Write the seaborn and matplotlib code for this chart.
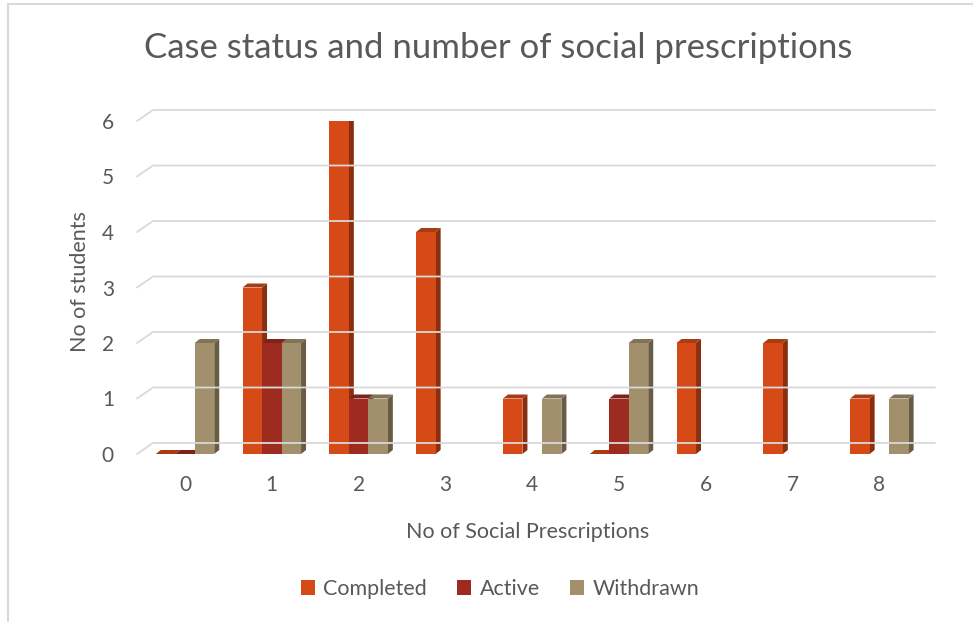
import numpy as np
import pandas as pd
import matplotlib
matplotlib.use("Agg")
import matplotlib.pyplot as plt
import seaborn as sns
from matplotlib.patches import Polygon, Patch
from matplotlib.lines import Line2D
from matplotlib.transforms import IdentityTransform

# ---- data (NaN = empty cell, 0 = explicit zero) ----
categories = ["0", "1", "2", "3", "4", "5", "6", "7", "8"]
completed = [0, 3, 6, 4, 1, 0, 2, 2, 1]
active = [0, 2, 1, np.nan, np.nan, 1, np.nan, np.nan, np.nan]
withdrawn = [2, 2, 1, np.nan, 1, 2, np.nan, np.nan, 1]
series_names = ["Completed", "Active", "Withdrawn"]
yticks = [0, 1, 2, 3, 4, 5, 6]

title = "Case status and number of social prescriptions"
xlabel = "No of Social Prescriptions"
ylabel = "No of students"

colors = {"Completed": "#D64A17", "Active": "#9E2B20", "Withdrawn": "#A28F6B"}
text_color = "#595959"
grid_color = "#D9D9D9"

df = pd.DataFrame({
    "cat": categories * 3,
    "series": sum([[s] * len(categories) for s in series_names], []),
    "value": completed + active + withdrawn,
})

sns.set_style("white")
plt.rcParams["font.family"] = ["Lato", "DejaVu Sans"]

W, H = 973, 622
fig = plt.figure(figsize=(W / 100, H / 100), dpi=100)

# axes in pixel terms (front plane)
ax_l, ax_r, ax_b, ax_t = 137, 918, 454, 121
ax = fig.add_axes([ax_l / W, 1 - ax_b / H, (ax_r - ax_l) / W, (ax_b - ax_t) / H])

sns.barplot(data=df, x="cat", y="value", hue="series", order=categories,
            hue_order=series_names, palette=colors, width=0.674,
            linewidth=0, saturation=1, ax=ax, legend=False, zorder=2)

ax.set_xlim(-0.553, 8.445)
ax.set_ylim(0, 6)
ax.set_yticks(yticks)
ax.set_yticklabels([str(v) for v in yticks])
for s in ax.spines.values():
    s.set_visible(False)
ax.tick_params(axis="both", length=0, labelsize=15, colors=text_color)
ax.tick_params(axis="x", pad=15)
ax.tick_params(axis="y", pad=21)
for lab in ax.get_yticklabels():
    lab.set_horizontalalignment("center")
ax.set_xlabel("")
ax.set_ylabel("")
ax.grid(False)

# ---- pseudo-3D faces for the bars ----
px_x = (ax_r - ax_l) / (ax.get_xlim()[1] - ax.get_xlim()[0])
px_y = (ax_b - ax_t) / (ax.get_ylim()[1] - ax.get_ylim()[0])
ddx = 5 / px_x
ddy = 4 / px_y
for p in list(ax.patches):
    x0 = p.get_x(); w = p.get_width(); h = p.get_height()
    if not np.isfinite(h):
        continue
    fc = np.array(p.get_facecolor()[:3])
    side = Polygon([(x0 + w, 0), (x0 + w, h), (x0 + w + ddx, h + ddy), (x0 + w + ddx, ddy)],
                   closed=True, facecolor=tuple(fc * 0.64), edgecolor="none", zorder=1.5)
    top = Polygon([(x0, h), (x0 + w, h), (x0 + w + ddx, h + ddy), (x0 + ddx, h + ddy)],
                  closed=True, facecolor=tuple(fc * 0.8), edgecolor="none", zorder=1.6)
    ax.add_patch(side)
    ax.add_patch(top)

# ---- gridlines with a back wall and left diagonal ----
for v in yticks:
    xf, yf = ax.transData.transform((ax.get_xlim()[0], v))
    xr, _ = ax.transData.transform((ax.get_xlim()[1], v))
    xs = [xf, xf + 16, xr + 17]
    ys = [yf, yf + 11, yf + 11]
    ln = Line2D(xs, ys, color=grid_color, lw=1.3, transform=IdentityTransform(),
                zorder=0.5, clip_on=False)
    fig.add_artist(ln)

# ---- text ----
fig.text(498 / W, 1 - 48 / H, title, ha="center", va="center", fontsize=25, color=text_color)
fig.text(528 / W, 1 - 532 / H, xlabel, ha="center", va="center", fontsize=15.5, color=text_color)
fig.text(80 / W, 1 - 282 / H, ylabel, ha="center", va="center", fontsize=15.5, rotation=90,
         color=text_color)

handles = [Patch(facecolor=colors[s], edgecolor="none") for s in series_names]
fig.legend(handles, series_names, loc="center", bbox_to_anchor=(500 / W, 1 - 589 / H),
           ncol=3, frameon=False, fontsize=15.5, handlelength=0.65, handleheight=0.65,
           handletextpad=0.4, columnspacing=1.4, labelcolor=text_color)

# chart border (left and top)
fig.add_artist(Line2D([8, 8], [0, H - 4], color=grid_color, lw=1.5, transform=IdentityTransform()))
fig.add_artist(Line2D([8, W], [H - 4, H - 4], color=grid_color, lw=1.5, transform=IdentityTransform()))

fig.savefig("out.png", dpi=100)
